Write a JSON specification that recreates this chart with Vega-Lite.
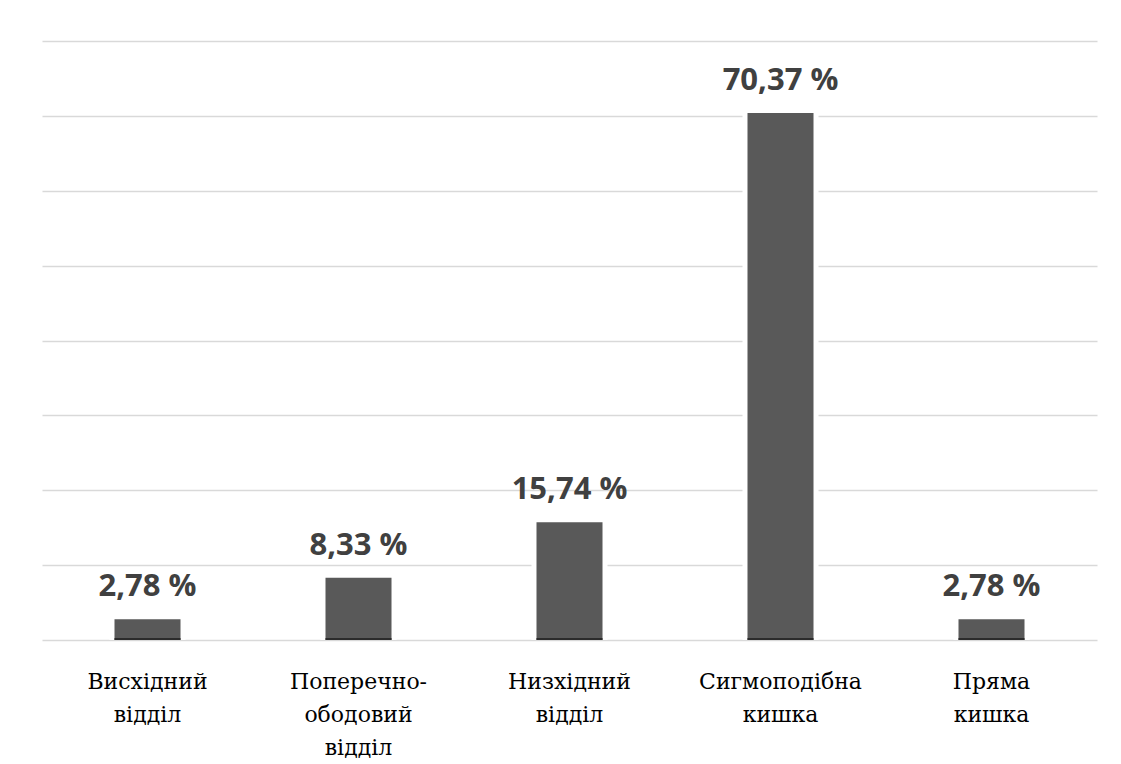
{
  "$schema": "https://vega.github.io/schema/vega-lite/v6.json",
  "width": 1055,
  "height": 599,
  "autosize": {"type": "none"},
  "padding": {"left": 42, "top": 41, "right": 24, "bottom": 124},
  "background": "white",
  "config": {"view": {"stroke": null}},
  "data": {
    "values": [
      {"section": "Висхідний відділ", "percent": 2.78},
      {"section": "Поперечно-ободовий відділ", "percent": 8.33},
      {"section": "Низхідний відділ", "percent": 15.74},
      {"section": "Сигмоподібна кишка", "percent": 70.37},
      {"section": "Пряма кишка", "percent": 2.78}
    ]
  },
  "transform": [
    {"calculate": "replace(format(datum.percent, '.2f'), '.', ',') + ' %'", "as": "label"}
  ],
  "encoding": {
    "x": {
      "field": "section",
      "type": "nominal",
      "sort": null,
      "scale": {"paddingInner": 0, "paddingOuter": 0},
      "axis": {
        "title": null,
        "labelAngle": 0,
        "domain": false,
        "ticks": false,
        "labelFont": "DejaVu Serif",
        "labelFontSize": 22,
        "labelColor": "#000000",
        "labelLineHeight": 33,
        "labelPadding": 31,
        "labelLimit": 0,
        "labelExpr": "split(replace(datum.label, '-', '- '), ' ')"
      }
    },
    "y": {
      "field": "percent",
      "type": "quantitative",
      "scale": {"domain": [0, 80], "nice": false},
      "axis": {
        "title": null,
        "labels": false,
        "ticks": false,
        "domain": false,
        "values": [0, 10, 20, 30, 40, 50, 60, 70, 80],
        "gridColor": "#d9d9d9",
        "gridWidth": 1.3
      }
    }
  },
  "layer": [
    {"mark": {"type": "bar", "size": 76, "color": "white", "opacity": 1}},
    {"mark": {"type": "bar", "size": 66, "color": "#595959", "opacity": 1}},
    {
      "mark": {"type": "tick", "size": 66, "thickness": 2, "color": "#2b2b2b", "yOffset": -1, "opacity": 1},
      "encoding": {"y": {"datum": 0, "type": "quantitative"}}
    },
    {
      "mark": {
        "type": "text",
        "baseline": "alphabetic",
        "dy": -23,
        "font": "Open Sans",
        "fontWeight": "bold",
        "fontSize": 31,
        "color": "#404040"
      },
      "encoding": {"text": {"field": "label"}}
    }
  ]
}
